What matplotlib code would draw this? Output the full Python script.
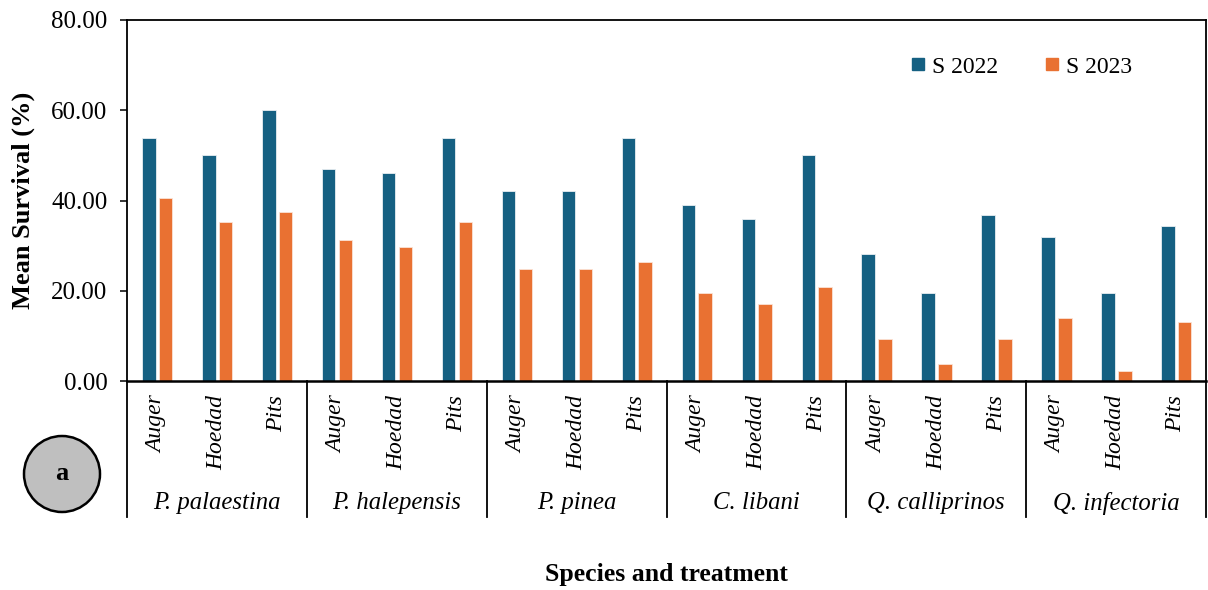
"""Mean survival per species and planting treatment, 2022 vs 2023."""

import matplotlib

matplotlib.use("Agg")
import matplotlib.pyplot as plt
import numpy as np
from matplotlib.lines import Line2D
from matplotlib.patches import Circle

species = ["P. palaestina", "P. halepensis", "P. pinea", "C. libani", "Q. calliprinos", "Q. infectoria"]
treatments = ["Auger", "Hoedad", "Pits"]
yticks = [0, 20, 40, 60, 80]

s2022 = [53.8, 50.0, 60.0, 46.9, 46.1, 53.8, 42.1, 42.1, 53.9,
         38.9, 35.8, 50.0, 28.1, 19.4, 36.7, 32.0, 19.4, 34.3]
s2023 = [40.5, 35.2, 37.4, 31.2, 29.6, 35.2, 24.9, 24.9, 26.4,
         19.4, 17.1, 20.9, 9.2, 3.8, 9.2, 14.0, 2.2, 13.1]

BLUE = "#156082"
ORANGE = "#E97132"

plt.rcParams["font.family"] = ["Liberation Serif", "DejaVu Serif"]

fig = plt.figure(figsize=(12.08, 5.9), dpi=100)
ax = fig.add_axes([127 / 1208, 1 - 381 / 590, 1079 / 1208, 361 / 590])

n = len(s2022)
x = np.arange(n)
width = 0.225
ax.bar(x - 0.135, s2022, width, color=BLUE, edgecolor="#e8eef2", linewidth=0.6)
ax.bar(x + 0.145, s2023, width, color=ORANGE, edgecolor="#fbe3d6", linewidth=0.6)

ax.set_xlim(-0.5, n - 0.5)
ax.set_ylim(0, 80)
ax.set_yticks(yticks)
ax.set_yticklabels([f"{v:.2f}" for v in yticks], fontsize=18)
ax.tick_params(axis="y", direction="out", length=5, width=1.1, pad=9)
ax.set_xticks([])
for side in ["left", "right", "top", "bottom"]:
    ax.spines[side].set_linewidth(1.3)
ax.spines["bottom"].set_linewidth(1.8)

# treatment labels (rotated) and species group labels under the axis
trans = ax.get_xaxis_transform()
for i in range(n):
    ax.text(x[i], -0.04, treatments[i % 3], transform=trans, rotation=90,
            ha="center", va="top", fontsize=17, style="italic")
for g, name in enumerate(species):
    ax.text(3 * g + 1, -0.338, name, transform=trans, ha="center", va="center",
            fontsize=17.8, style="italic")
for b in np.arange(-0.5, n, 3):
    ax.plot([b, b], [0, -0.377], transform=trans, color="black", lw=1.3, clip_on=False)

ax.set_ylabel("Mean Survival (%)", fontsize=19, fontweight="bold")
ax.yaxis.set_label_coords(-0.085, 0.5)
ax.set_xlabel("Species and treatment", fontsize=18.5, fontweight="bold")
ax.xaxis.set_label_coords(0.5, -0.503)

handles = [
    Line2D([], [], marker="s", ls="none", color=BLUE, markersize=8.5, label="S 2022"),
    Line2D([], [], marker="s", ls="none", color=ORANGE, markersize=8.5, label="S 2023"),
]
ax.legend(handles=handles, loc="center", bbox_to_anchor=(0.829, 0.87), ncol=2,
          frameon=False, fontsize=17, handlelength=0.6, handletextpad=0.3,
          columnspacing=2.0)

# panel letter in a grey disc
circ = Circle((0.62, (590 - 474) / 100), 0.38, transform=fig.dpi_scale_trans,
              facecolor="#bfbfbf", edgecolor="black", linewidth=1.8)
fig.patches.append(circ)
fig.text(62 / 1208, 1 - 474 / 590, "a", ha="center", va="center",
         fontsize=19, fontweight="bold")

fig.savefig("out.png", dpi=100)
